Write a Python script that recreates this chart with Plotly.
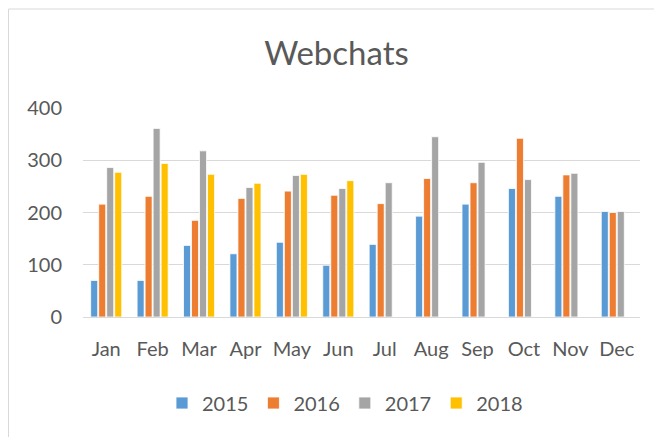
import plotly.graph_objects as go

months = ["Jan", "Feb", "Mar", "Apr", "May", "Jun", "Jul", "Aug", "Sep", "Oct", "Nov", "Dec"]
v2015 = [70, 70, 137, 121, 143, 99, 139, 193, 216, 246, 231, 202]
v2016 = [216, 231, 185, 227, 241, 233, 217, 265, 257, 342, 272, 200]
v2017 = [286, 361, 318, 248, 271, 246, 257, 345, 296, 263, 275, 202]
v2018 = [277, 294, 273, 256, 273, 261, None, None, None, None, None, None]

series = [("2015", v2015, "#5B9BD5"), ("2016", v2016, "#ED7D31"),
          ("2017", v2017, "#A5A5A5"), ("2018", v2018, "#FFC000")]

FONT = "Lato, Open Sans, sans-serif"
TXT = "#595959"

# page body has an 8px margin: figure occupies 8..662 x 8..437
W, H = 654, 429
L, T, R, B = 75, 100, 22, 120
PW, PH = W - L - R, H - T - B

fig = go.Figure()
for name, vals, col in series:
    fig.add_trace(go.Bar(x=months, y=vals, name=name, marker_color=col,
                         marker_line_color="white", marker_line_width=0.8))

fig.update_layout(
    width=W, height=H,
    margin=dict(l=L, r=R, t=T, b=B),
    paper_bgcolor="white", plot_bgcolor="white",
    barmode="group", bargap=0.31, bargroupgap=0.12,
    font=dict(family=FONT, color=TXT, size=20),
    title=dict(text="Webchats", x=(336.5 - 8) / W, xanchor="center", y=1 - 45 / H, yanchor="middle",
               font=dict(family=FONT, size=33, color=TXT)),
    showlegend=True,
    legend=dict(orientation="h", x=(345 - 8 - L) / PW, xanchor="center", y=-(395 - 309) / PH,
                yanchor="middle", font=dict(family=FONT, size=20, color=TXT), itemwidth=30,
                traceorder="normal"),
    xaxis=dict(showgrid=False, showline=True, linecolor="#D9D9D9", linewidth=1,
               ticks="", tickfont=dict(size=20, color=TXT), ticklabelstandoff=14),
    yaxis=dict(range=[0, 400], dtick=100, showgrid=True, gridcolor="#D9D9D9", gridwidth=1,
               zeroline=False, showline=False, ticks="",
               tickfont=dict(size=20, color=TXT), ticklabelstandoff=20),
    shapes=[dict(type="rect", xref="paper", yref="paper",
                 x0=(0.5 - L) / PW, x1=(668 - 8 - L) / PW,
                 y0=(309 - 445) / PH, y1=(309 - 1) / PH,
                 line=dict(color="#D9D9D9", width=1), layer="below")],
)

fig.write_html("out.html")
